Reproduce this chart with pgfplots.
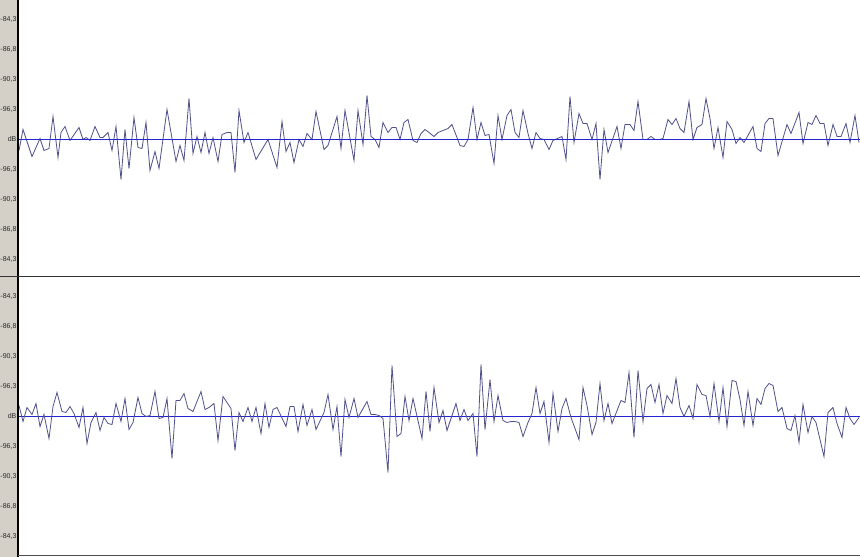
\documentclass[border=0pt]{standalone}
\usepackage{fontspec}
\setmainfont{Liberation Sans}
\usepackage{pgfplots}
\pgfplotsset{compat=1.18}
\definecolor{wavec}{RGB}{80,80,140}
\definecolor{zlinec}{RGB}{35,35,210}
\definecolor{panelgray}{RGB}{212,208,200}
\begin{document}
\begin{tikzpicture}[x=1pt,y=1pt]
\useasboundingbox (0,0) rectangle (860,557);
\fill[white] (0,0) rectangle (860,557);
\fill[panelgray] (0,0) rectangle (18,557);
\pgfplotsset{panel/.style={scale only axis, width=841pt, xmin=19, xmax=860,
  axis line style={draw=none}, xtick=\empty,
  ytick={-120,-90,-60,-30,0,30,60,90,120},
  yticklabels={{-84,3},{-86,8},{-90,3},{-96,3},dB,{-96,3},{-90,3},{-86,8},{-84,3}},
  tick align=outside, major tick length=2pt, ytick pos=left,
  tick style={black, line width=0.6pt},
  yticklabel style={font=\fontsize{7}{8}\selectfont, text=black!85, inner sep=0.4pt},
  extra y ticks={0}, extra y tick labels={},
  extra y tick style={grid=major, major grid style={draw=zlinec, line width=1pt}, major tick length=0pt},
  clip=true}}
% top channel
\begin{axis}[panel, at={(19,280.5)}, anchor=south west, height=276pt, ymin=-137, ymax=139]
\addplot[color=wavec, line width=0.8pt] coordinates {(19,-11) (23,10) (32,-17) (40,1) (44,-11) (49,-9) (53,23) (58,-18) (61,7) (65,13) (70,-1) (79,12) (83,0) (86,2) (90,-1) (95,13) (100,2) (103,2) (108,7) (112,-11) (116,13) (121,-40) (125,10) (129,-29) (134,22) (138,-8) (142,-9) (146,17) (150,-31) (155,-12) (159,-29) (167,30) (176,-22) (180,-6) (184,-21) (189,41) (193,-14) (197,3) (201,-13) (205,7) (209,-14) (213,2) (218,-22) (222,5) (227,7) (231,7) (235,-33) (239,29) (244,-3) (248,7) (256,-20) (268,0) (277,-28) (282,18) (286,-12) (290,-3) (294,-23) (299,0) (303,-7) (307,6) (312,0) (316,28) (324,-10) (328,-6) (337,23) (341,-9) (345,29) (354,-21) (358,29) (363,-5) (367,44) (371,3) (375,0) (379,-8) (383,17) (388,7) (392,12) (396,12) (400,0) (404,17) (408,20) (413,-1) (417,-3) (421,6) (425,10) (429,7) (434,3) (438,7) (443,9) (448,11) (452,15) (460,-6) (464,-7) (468,0) (473,32) (477,0) (481,17) (485,4) (489,5) (494,-24) (498,24) (502,0) (507,24) (511,30) (515,7) (519,2) (523,29) (528,6) (532,-9) (536,7) (540,1) (544,0) (549,-10) (553,-1) (562,3) (566,-20) (570,43) (574,-3) (579,26) (583,16) (587,16) (592,0) (596,16) (600,-40) (604,10) (608,-13) (617,13) (621,-9) (625,15) (630,15) (634,9) (638,38) (643,0) (647,0) (651,3) (655,0) (660,0) (663,1) (668,20) (672,15) (676,21) (680,11) (684,7) (689,38) (693,0) (697,12) (702,15) (706,41) (710,21) (714,-9) (718,12) (723,-18) (727,18) (732,10) (736,-4) (740,2) (744,-3) (753,13) (757,-9) (761,-12) (765,16) (769,21) (773,21) (778,-16) (787,15) (791,6) (799,27) (803,-4) (808,17) (812,15) (816,24) (820,16) (824,16) (828,-6) (833,15) (837,3) (841,3) (846,16) (850,-3) (855,24) (859,-3)};
\end{axis}
% bottom channel
\begin{axis}[panel, at={(19,1.5)}, anchor=south west, height=278pt, ymin=-139, ymax=139]
\addplot[color=wavec, line width=0.8pt] coordinates {(19,11) (23,-5) (27,9) (32,2) (36,13) (40,-10) (44,2) (49,-22) (53,10) (57,24) (62,5) (66,4) (70,10) (74,3) (79,-11) (83,9) (87,-27) (91,-6) (96,4) (100,-14) (104,-1) (108,-7) (112,-8) (116,13) (121,-5) (125,18) (129,-13) (133,-6) (138,19) (142,3) (146,0) (150,1) (155,25) (159,-2) (163,-1) (167,18) (172,-42) (176,16) (180,16) (184,23) (188,8) (193,5) (201,25) (205,7) (209,9) (214,13) (218,-24) (223,20) (231,8) (235,-34) (239,4) (243,-5) (248,9) (252,-5) (256,9) (261,-17) (265,13) (269,-11) (273,7) (277,9) (286,-10) (290,10) (294,10) (298,-15) (303,12) (307,-9) (312,7) (316,-13) (324,4) (328,22) (333,-13) (337,10) (341,-40) (345,17) (349,-1) (354,18) (358,-1) (367,15) (371,2) (375,2) (379,1) (383,-2) (388,-56) (392,51) (397,-20) (401,-17) (405,20) (409,-4) (413,18) (422,-22) (426,25) (430,-15) (434,29) (439,-6) (443,6) (447,-14) (456,13) (460,-4) (464,7) (468,-4) (473,3) (477,-40) (481,52) (485,-13) (490,37) (494,-5) (498,21) (503,-4) (507,-6) (511,-5) (515,-5) (519,-6) (523,-20) (528,-6) (532,3) (536,29) (540,3) (544,15) (549,-26) (553,23) (558,-15) (562,8) (566,18) (571,-1) (579,-23) (583,29) (587,11) (592,-18) (596,-6) (600,33) (604,-4) (608,13) (612,-7) (621,16) (625,14) (629,44) (634,-21) (638,46) (643,-5) (647,28) (651,32) (655,14) (659,32) (663,3) (667,21) (672,13) (676,38) (680,9) (684,0) (689,11) (693,-2) (697,32) (702,22) (706,21) (710,0) (714,33) (719,-5) (723,29) (727,-10) (732,36) (736,35) (740,17) (744,-9) (748,25) (753,-9) (757,18) (761,12) (765,28) (769,33) (773,31) (778,5) (782,9) (787,-12) (791,-14) (795,1) (799,-26) (803,12) (808,-16) (812,0) (816,-6) (824,-40) (828,4) (833,9) (837,-7) (842,-21) (846,9) (850,-2) (854,-8) (859,-1)};
\end{axis}
\draw[zlinec, line width=1pt] (19,417.5) -- (860,417.5);
\draw[black, line width=1.6pt] (18,0) -- (18,557);
\draw[black!80, line width=1pt] (0,280.5) -- (860,280.5);
\draw[black!70, line width=0.8pt] (18,2) -- (860,2);
\end{tikzpicture}
\end{document}
